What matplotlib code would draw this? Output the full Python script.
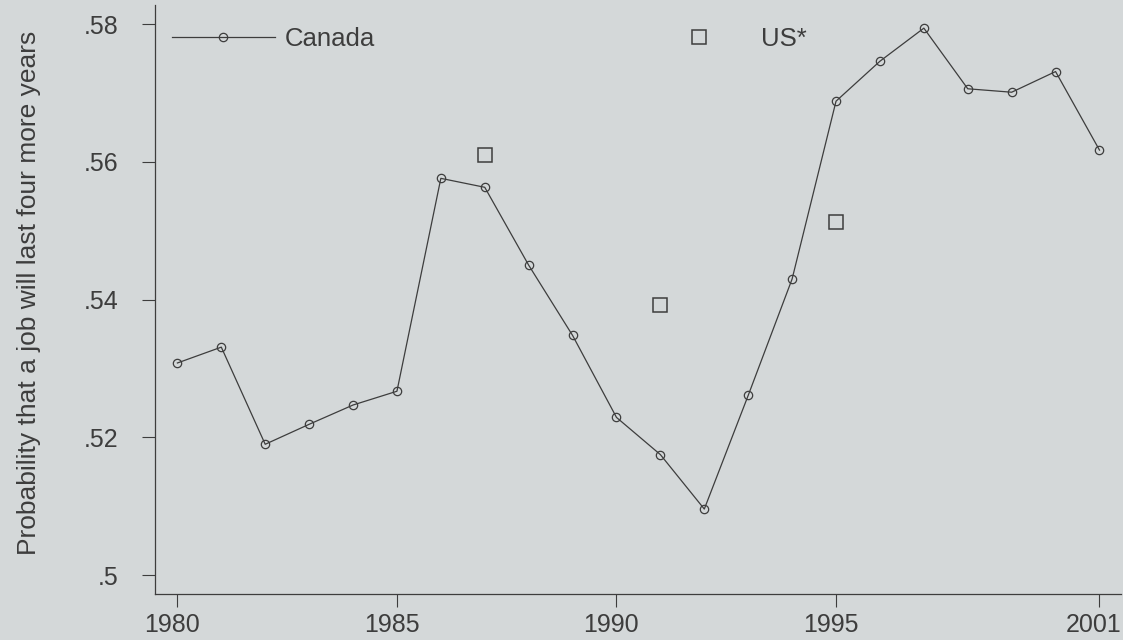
import matplotlib
matplotlib.use("Agg")
import matplotlib.pyplot as plt
from matplotlib.ticker import FixedLocator, FuncFormatter
from matplotlib.transforms import ScaledTranslation

# Probability that a job lasts four more years
canada_years = [1980, 1981, 1982, 1983, 1984, 1985, 1986, 1987, 1988, 1989, 1990,
                1991, 1992, 1993, 1994, 1995, 1996, 1997, 1998, 1999, 2000, 2001]
canada_values = [0.5308, 0.5331, 0.5190, 0.5219, 0.5247, 0.5267, 0.5576, 0.5563,
                 0.5450, 0.5348, 0.5229, 0.5175, 0.5096, 0.5261, 0.5430, 0.5688,
                 0.5746, 0.5794, 0.5706, 0.5701, 0.5731, 0.5617]

us_years = [1987, 1991, 1995]
us_values = [0.5610, 0.5392, 0.5512]

x_ticks = [1980, 1985, 1990, 1995, 2001]
y_ticks = [0.50, 0.52, 0.54, 0.56, 0.58]
y_label = "Probability that a job will last four more years"

BG = "#d4d8d9"
INK = "#3d3d3d"
FONT = "Liberation Sans"

plt.rcParams["font.family"] = [FONT, "DejaVu Sans"]

fig = plt.figure(figsize=(11.23, 6.40), dpi=100, facecolor=BG)
ax = fig.add_axes([155 / 1123, 46 / 640, (1121 - 155) / 1123, (594 - 5) / 640])
ax.set_facecolor(BG)

ax.plot(canada_years, canada_values, color=INK, lw=0.9, marker="o", ms=6.0,
        mfc="none", mec=INK, mew=0.9, label="Canada")
ax.plot(us_years, us_values, ls="none", marker="s", ms=9.5, mfc="none",
        mec=INK, mew=1.1, label="US*")

ax.set_xlim(1979.49, 2001.49)
ax.set_ylim(0.49727, 0.58276)

ax.xaxis.set_major_locator(FixedLocator(x_ticks))
ax.yaxis.set_major_locator(FixedLocator(y_ticks))


def fmt_prob(v, _pos):
    s = f"{v:.2f}".rstrip("0")
    return s[1:] if s.startswith("0") else s


ax.yaxis.set_major_formatter(FuncFormatter(fmt_prob))
ax.tick_params(axis="both", colors=INK, labelcolor=INK, labelsize=18,
               length=9.5, width=0.8, direction="out")
ax.tick_params(axis="y", pad=17)
ax.tick_params(axis="x", pad=4)

# year labels sit a little to the left of their ticks
shift = ScaledTranslation(-5.5 / 100, 0, fig.dpi_scale_trans)
for lbl in ax.get_xticklabels():
    lbl.set_transform(lbl.get_transform() + shift)

for side in ("top", "right"):
    ax.spines[side].set_visible(False)
for side in ("left", "bottom"):
    ax.spines[side].set_color(INK)
    ax.spines[side].set_linewidth(0.9)

fig.text(29 / 1123, 1 - 293 / 640, y_label, rotation=90, ha="center",
         va="center", fontsize=19, color=INK)

leg = ax.legend(loc="upper left", bbox_to_anchor=(172 / 1123, 1 - 27 / 640),
                bbox_transform=fig.transFigure, ncol=2, frameon=False,
                fontsize=18.5, handlelength=4.0, handletextpad=0.4,
                columnspacing=10.6, borderpad=0, borderaxespad=0)
for t in leg.get_texts():
    t.set_color(INK)

fig.savefig("out.png", dpi=100, facecolor=BG)
